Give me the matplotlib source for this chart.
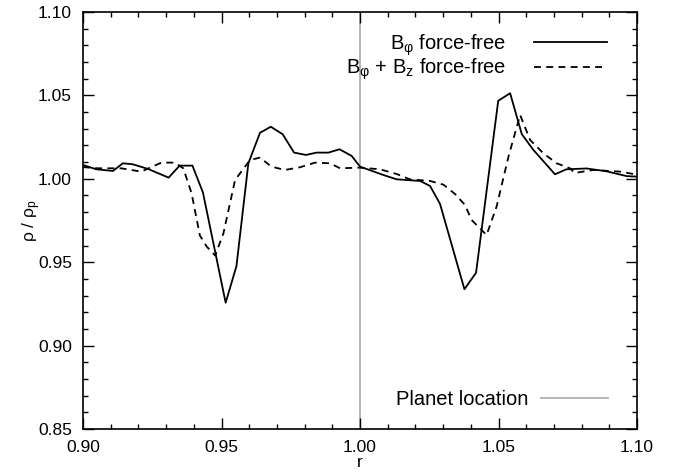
import matplotlib
matplotlib.use("Agg")
import matplotlib.pyplot as plt
from matplotlib.ticker import MultipleLocator, FormatStrFormatter
from matplotlib.lines import Line2D

plt.rcParams['font.family'] = ['Liberation Sans', 'DejaVu Sans']
plt.rcParams['mathtext.fontset'] = 'custom'
plt.rcParams['mathtext.rm'] = 'Liberation Sans'
plt.rcParams['mathtext.it'] = 'Liberation Sans'

# --- data ---
r_phi = [0.900, 0.9048, 0.9108, 0.9144, 0.918, 0.9235, 0.9309, 0.9349, 0.9395,
         0.9433, 0.9515, 0.9554, 0.9597, 0.9639, 0.9678, 0.9721, 0.9762, 0.9805,
         0.9843, 0.9886, 0.9926, 0.997, 1.000, 1.0084, 1.0132, 1.0217, 1.0253,
         1.0289, 1.0377, 1.0419, 1.0499, 1.0542, 1.0584, 1.0626, 1.0704, 1.0745,
         1.0818, 1.089, 1.0963, 1.100]
rho_phi = [1.0083, 1.0057, 1.0047, 1.0093, 1.0087, 1.0059, 1.0007, 1.0079, 1.0079,
           0.9918, 0.9257, 0.9477, 1.0093, 1.0276, 1.0312, 1.0267, 1.0157, 1.0143,
           1.0157, 1.0157, 1.0177, 1.0137, 1.0073, 1.0023, 0.9997, 0.9987, 0.9957,
           0.9849, 0.9338, 0.9437, 1.0468, 1.0513, 1.0268, 1.0173, 1.0027, 1.0057,
           1.0062, 1.0045, 1.0016, 1.0013]

r_phiz = [0.900, 0.9054, 0.9138, 0.921, 0.9283, 0.9331, 0.9362, 0.9392, 0.9422,
          0.9447, 0.9477, 0.9507, 0.9549, 0.9603, 0.9639, 0.968, 0.9729, 0.9783,
          0.9838, 0.9892, 0.9928, 1.000, 1.0072, 1.0132, 1.018, 1.0253, 1.0301,
          1.0343, 1.0379, 1.0403, 1.0439, 1.0457, 1.0493, 1.0536, 1.0578, 1.0614,
          1.0662, 1.071, 1.0758, 1.0775, 1.0842, 1.0939, 1.100]
rho_phiz = [1.0070, 1.0063, 1.0063, 1.0043, 1.0097, 1.0097, 1.0063, 0.9913, 0.9660,
            0.9593, 0.9540, 0.9673, 0.9993, 1.0113, 1.0127, 1.0073, 1.0053, 1.0069,
            1.0097, 1.0093, 1.0063, 1.0067, 1.0057, 1.0029, 0.9997, 0.9987, 0.9965,
            0.9909, 0.9843, 0.9753, 0.9693, 0.9663, 0.9833, 1.0133, 1.0383, 1.0233,
            1.0153, 1.0093, 1.0063, 1.0035, 1.0053, 1.0043, 1.0025]

planet_r = 1.00

labels = [r'B$_\varphi$ force-free', r'B$_\varphi$ + B$_\mathrm{z}$ force-free']
planet_label = 'Planet location'

fig = plt.figure(figsize=(6.74, 4.74), dpi=100)
ax = fig.add_axes([83/674, 1 - 429/474, (637-83)/674, (429-12)/474])

lw = 1.3
gray = '#b4b4b4'
ax.axvline(planet_r, color=gray, lw=1.4, zorder=1)
l1, = ax.plot(r_phi, rho_phi, color='black', lw=lw, label=labels[0], zorder=3)
l2, = ax.plot(r_phiz, rho_phiz, color='black', lw=lw,
              linestyle=(0, (5.0/lw, 3.8/lw)), label=labels[1], zorder=3)

ax.set_xlim(0.90, 1.10)
ax.set_ylim(0.85, 1.10)
ax.xaxis.set_major_locator(MultipleLocator(0.05))
ax.xaxis.set_minor_locator(MultipleLocator(0.01))
ax.yaxis.set_major_locator(MultipleLocator(0.05))
ax.yaxis.set_minor_locator(MultipleLocator(0.01))
ax.xaxis.set_major_formatter(FormatStrFormatter('%.2f'))
ax.yaxis.set_major_formatter(FormatStrFormatter('%.2f'))
ax.tick_params(which='both', direction='in', top=True, right=True,
               width=1.0, labelsize=12.5, color='black')
ax.tick_params(which='major', length=8, pad=8)
ax.tick_params(which='minor', length=3.5)
for s in ax.spines.values():
    s.set_linewidth(1.2)

ax.set_xlabel('r', fontsize=12.5, labelpad=0)
ax.set_ylabel(r'ρ / ρ$_\mathrm{p}$', fontsize=12.5, labelpad=-4)

lfs = 14.5
leg1 = ax.legend(handles=[l1, l2], loc='upper right', frameon=False,
                 markerfirst=False, fontsize=lfs, handlelength=3.6,
                 handletextpad=1.4, labelspacing=-0.05,
                 bbox_to_anchor=(0.978, 0.995))
for col in leg1._legend_handle_box.get_children():
    col.align = 'right'
ax.add_artist(leg1)

ph = Line2D([], [], color=gray, lw=1.4)
leg2 = ax.legend(handles=[ph], labels=[planet_label], loc='lower right',
                 frameon=False, markerfirst=False, fontsize=lfs,
                 handlelength=3.3, handletextpad=0.65,
                 bbox_to_anchor=(0.980, 0.005))

fig.savefig('out.png', dpi=100)
